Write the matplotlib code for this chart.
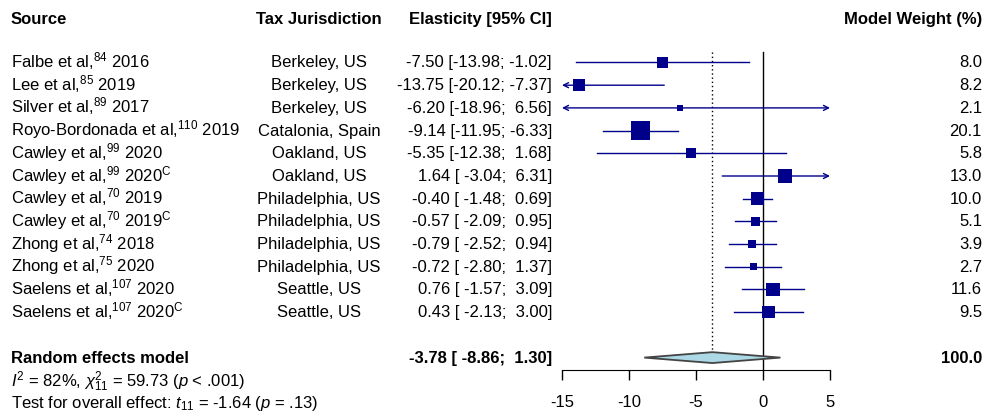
import matplotlib

matplotlib.use("Agg")
import matplotlib.pyplot as plt
import matplotlib.transforms as mtransforms
from matplotlib.patches import Polygon

plt.rcParams["font.family"] = ["Liberation Sans", "DejaVu Sans"]
plt.rcParams["mathtext.fontset"] = "custom"
plt.rcParams["mathtext.rm"] = "Liberation Sans"
plt.rcParams["mathtext.it"] = "Liberation Sans:italic"
plt.rcParams["mathtext.bf"] = "Liberation Sans:bold"
plt.rcParams["axes.unicode_minus"] = False

sources = [
    "Falbe et al,$^{84}$ 2016",
    "Lee et al,$^{85}$ 2019",
    "Silver et al,$^{89}$ 2017",
    "Royo-Bordonada et al,$^{110}$ 2019",
    "Cawley et al,$^{99}$ 2020",
    "Cawley et al,$^{99}$ 2020$^{\\mathrm{C}}$",
    "Cawley et al,$^{70}$ 2019",
    "Cawley et al,$^{70}$ 2019$^{\\mathrm{C}}$",
    "Zhong et al,$^{74}$ 2018",
    "Zhong et al,$^{75}$ 2020",
    "Saelens et al,$^{107}$ 2020",
    "Saelens et al,$^{107}$ 2020$^{\\mathrm{C}}$",
]
jurisdictions = [
    "Berkeley, US", "Berkeley, US", "Berkeley, US", "Catalonia, Spain",
    "Oakland, US", "Oakland, US", "Philadelphia, US", "Philadelphia, US",
    "Philadelphia, US", "Philadelphia, US", "Seattle, US", "Seattle, US",
]
estimates = [-7.50, -13.75, -6.20, -9.14, -5.35, 1.64, -0.40, -0.57, -0.79, -0.72, 0.76, 0.43]
lower = [-13.98, -20.12, -18.96, -11.95, -12.38, -3.04, -1.48, -2.09, -2.52, -2.80, -1.57, -2.13]
upper = [-1.02, -7.37, 6.56, -6.33, 1.68, 6.31, 0.69, 0.95, 0.94, 1.37, 3.09, 3.00]
weights = [8.0, 8.2, 2.1, 20.1, 5.8, 13.0, 10.0, 5.1, 3.9, 2.7, 11.6, 9.5]

pooled_est, pooled_lo, pooled_hi = -3.78, -8.86, 1.30
pooled_weight = 100.0
heterogeneity = "$I^2$ = 82%, $\\chi^2_{11}$ = 59.73 ($p$ < .001)"
overall_test = "Test for overall effect: $t_{11}$ = -1.64 ($p$ = .13)"

xticks = [-15, -10, -5, 0, 5]
xmin, xmax = -15, 5

W, H = 987, 418
BLUE = "#00008B"

fig = plt.figure(figsize=(W / 100, H / 100), dpi=100)
ax = fig.add_axes([562 / W, 0, 268 / W, 1])
row0, row_h = 62.5, 22.7
ax.set_xlim(xmin, xmax)
ax.set_ylim((H - row0) / row_h, -row0 / row_h)

# axis drawn only as a bottom scale under the forest
for side in ("top", "left", "right"):
    ax.spines[side].set_visible(False)
axis_row = 13.53
ax.spines["bottom"].set_position(("data", axis_row))
ax.spines["bottom"].set_bounds(xmin, xmax)
ax.set_xticks(xticks)
ax.set_yticks([])
ax.tick_params(axis="x", length=7, width=1, pad=11, labelsize=12)
ax.patch.set_visible(False)

trans = mtransforms.blended_transform_factory(fig.transFigure, ax.transData)


def put(px, row, s, ha="left", bold=False):
    ax.text(px / W, row + 0.22, s, transform=trans, ha=ha, va="baseline",
            fontsize=12, fontweight="bold" if bold else "normal")


# header
hrow = -1.93
put(11, hrow, "Source", bold=True)
put(319, hrow, "Tax Jurisdiction", ha="center", bold=True)
put(552, hrow, "Elasticity [95% CI]", ha="right", bold=True)
put(982, hrow, "Model Weight (%)", ha="right", bold=True)

# reference lines
ax.plot([0, 0], [-0.46, axis_row], color="black", lw=1, zorder=1)
ax.plot([pooled_est, pooled_est], [-0.46, 12.76], color="black", lw=1,
        linestyle=(0, (1, 2)), zorder=1)

for i, (src, jur, e, lo, hi, w) in enumerate(
        zip(sources, jurisdictions, estimates, lower, upper, weights)):
    put(11, i, src)
    put(319, i, jur, ha="center")
    put(552, i, f"{e:.2f} [{lo:6.2f}; {hi:5.2f}]", ha="right")
    put(982, i, f"{w:.1f}", ha="right")

    lo_c, hi_c = max(lo, xmin), min(hi, xmax)
    if lo < xmin or hi > xmax:
        style = "<->" if (lo < xmin and hi > xmax) else ("<-" if lo < xmin else "->")
        ax.annotate("", xy=(hi_c, i), xytext=(lo_c, i),
                    arrowprops=dict(arrowstyle=style, color=BLUE, lw=1,
                                    mutation_scale=9, shrinkA=0, shrinkB=0),
                    zorder=2)
    else:
        ax.plot([lo_c, hi_c], [i, i], color=BLUE, lw=1, zorder=2)

# squares with area proportional to weight
side_pt = [18.3 * 0.72 * (w / max(weights)) ** 0.5 for w in weights]
ax.scatter(estimates, range(len(estimates)), s=[s ** 2 for s in side_pt],
           marker="s", color=BLUE, linewidths=0, zorder=3)

# pooled estimate
prow = 13
put(11, prow, "Random effects model", bold=True)
put(552, prow, f"{pooled_est:.2f} [{pooled_lo:6.2f}; {pooled_hi:5.2f}]", ha="right", bold=True)
put(982, prow, f"{pooled_weight:.1f}", ha="right", bold=True)
half = 0.24
ax.add_patch(Polygon([(pooled_lo, prow), (pooled_est, prow - half),
                      (pooled_hi, prow), (pooled_est, prow + half)],
                     closed=True, facecolor="#ADD8E6", edgecolor="#444444",
                     lw=1.3, zorder=4))

put(11, 14.08, heterogeneity)
put(11, 15.0, overall_test)

fig.savefig("out.png", dpi=100)
